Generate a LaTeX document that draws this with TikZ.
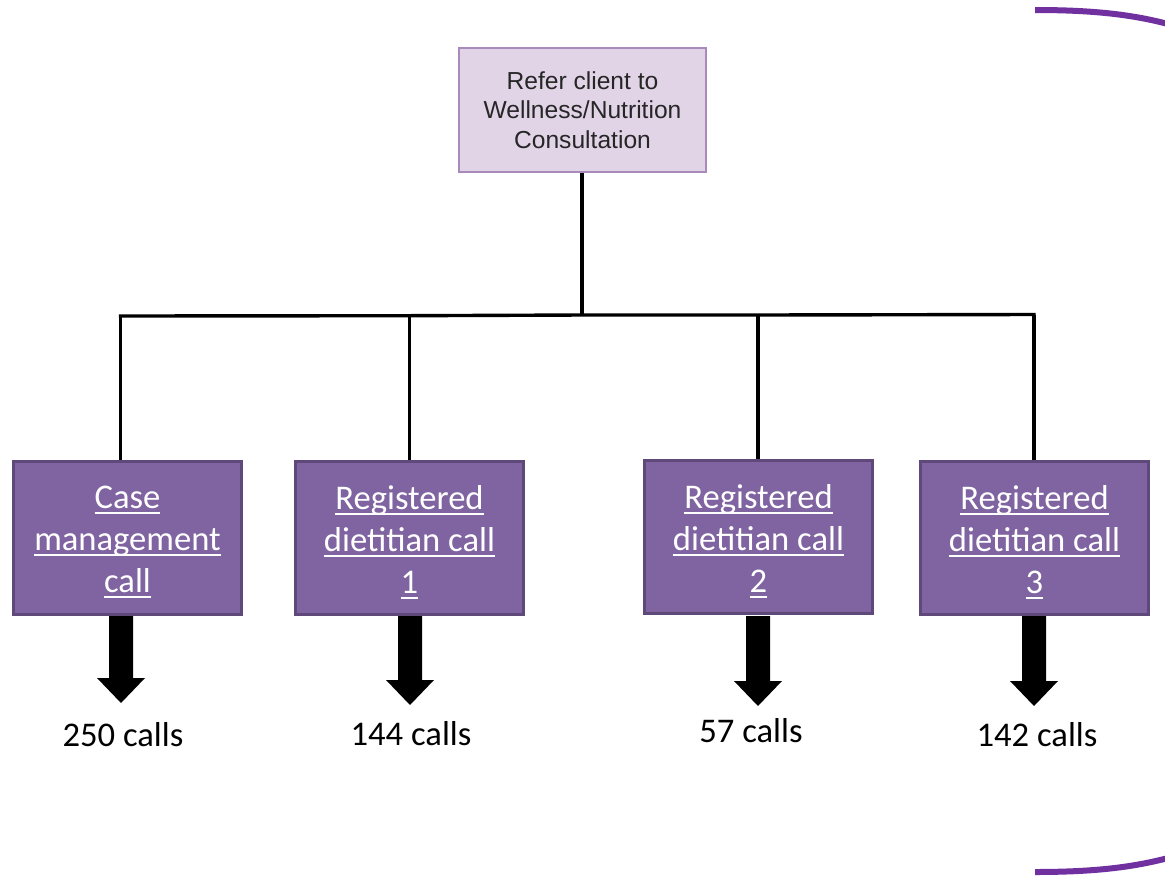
\documentclass[tikz,border=0pt]{standalone}
\usepackage{fontspec}
\setmainfont{Carlito}
\newfontfamily\arialfont{Liberation Sans}
\definecolor{topfill}{HTML}{E1D4E7}
\definecolor{topdraw}{HTML}{A98BBB}
\definecolor{boxfill}{HTML}{8064A2}
\definecolor{boxdraw}{HTML}{5F497A}
\definecolor{arcpurple}{HTML}{7030A0}
\newsavebox\myulbox
\newcommand{\wul}[1]{\sbox\myulbox{#1}\usebox\myulbox\llap{\rule[-5.5pt]{\wd\myulbox}{1.7pt}}}
\begin{document}
\begin{tikzpicture}[x=1pt,y=-1pt,
  topbox/.style={draw=topdraw,fill=topfill,line width=1.6pt,minimum width=247pt,minimum height=124pt,inner sep=0pt,align=center,font=\arialfont\fontsize{24.6}{29.5}\selectfont,text=black!85},
  callbox/.style={draw=boxdraw,fill=boxfill,line width=3.5pt,minimum width=228pt,minimum height=153pt,inner sep=0pt},
  calltext/.style={align=center,inner sep=0pt,font=\fontsize{34.6}{42}\selectfont,text=white},
  conn/.style={line width=3.4pt,black},
  blockarrow/.style={fill=black},
  countlabel/.style={font=\fontsize{34.6}{40}\selectfont,inner sep=0pt}
]
\useasboundingbox (0,0) rectangle (1165,876);
\fill[white] (0,0) rectangle (1165,876);

\node[topbox] (top) at (582.5,110) {Refer client to\\Wellness/Nutrition\\Consultation};

\node[callbox] (b1) at (127.5,538) {};
\node[callbox] (b2) at (409.5,538) {};
\node[callbox] (b3) at (758.5,537) {};
\node[callbox] (b4) at (1034.5,538) {};
\node[calltext] (t1) at ([yshift=-4]b1.center) {\wul{Case}\\\wul{management}\\\wul{call}};
\node[calltext] (t2) at ([yshift=-4]b2.center) {\wul{Registered}\\\wul{dietitian call}\\\wul{1}};
\node[calltext] (t3) at ([yshift=-4]b3.center) {\wul{Registered}\\\wul{dietitian call}\\\wul{2}};
\node[calltext] (t4) at ([yshift=-4]b4.center) {\wul{Registered}\\\wul{dietitian call}\\\wul{3}};

\coordinate (j0) at (582,315);
\coordinate (j1) at (120.5,316);
\coordinate (j2) at (409.5,315.7);
\coordinate (j3) at (758,315);
\coordinate (j4) at (1034,314.5);

\draw[conn] (top.south -| j0) -- (j0);
\draw[conn,line cap=rect] (j1) -- (j2) -- (j0) -- (j3) -- (j4);
\draw[conn] (j1) -- (j1 |- b1.north);
\draw[conn] (j2) -- (j2 |- b2.north);
\draw[conn] (j3) -- (j3 |- b3.north);
\draw[conn] (j4) -- (j4 |- b4.north);

% block arrows
\foreach \n/\cx/\ty/\hy/\py in {a1/121/616/678/703, a2/410/616/680/705, a3/758/616/681/706, a4/1034/616/681/706}{
  \fill[blockarrow] (\cx-12,\ty) -- (\cx+12,\ty) -- (\cx+12,\hy) -- (\cx+24,\hy) -- (\cx,\py) -- (\cx-24,\hy) -- (\cx-12,\hy) -- cycle;
}

\node[countlabel] (c1) at (123,735) {250 calls};
\node[countlabel] (c2) at (411,734) {144 calls};
\node[countlabel] (c3) at (751,731) {57 calls};
\node[countlabel] (c4) at (1037,735) {142 calls};

% decorative arcs
\draw[arcpurple,line width=6pt] (1035,10) .. controls (1090,10) and (1130,14) .. (1168,24);
\draw[arcpurple,line width=6pt] (1035,872) .. controls (1090,872) and (1130,868) .. (1168,858);
\end{tikzpicture}
\end{document}
